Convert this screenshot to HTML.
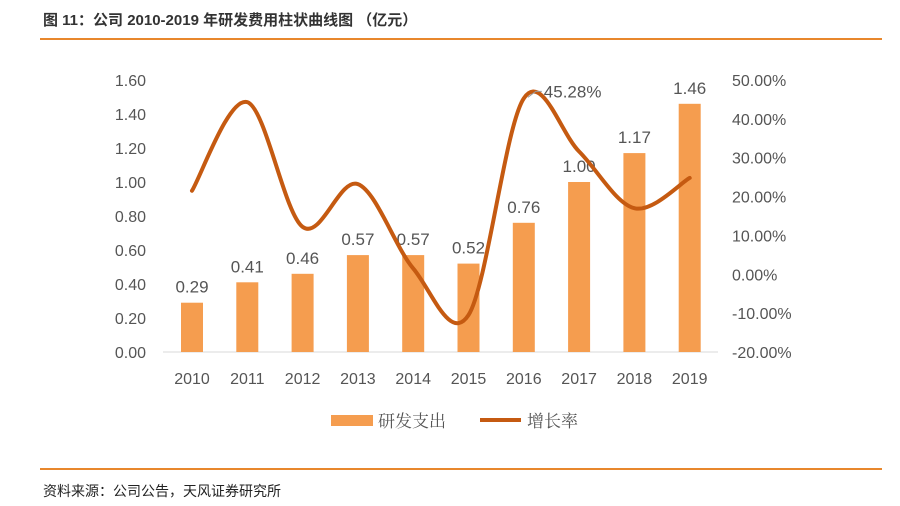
<!DOCTYPE html>
<html><head><meta charset="utf-8">
<style>
body{margin:0;width:900px;height:506px;background:#fff;font-family:"Liberation Sans","Noto Sans CJK SC",sans-serif;overflow:hidden;position:relative}
#title{position:absolute;left:43px;top:9px;font-size:15px;font-weight:bold;color:#333}
#topline{position:absolute;left:40px;top:38px;width:842px;height:2px;background:#e8872c}
#botline{position:absolute;left:40px;top:468px;width:842px;height:2px;background:#e8872c}
#src{position:absolute;left:43px;top:481px;font-size:14px;color:#222}
svg{position:absolute;left:0;top:0}
</style></head><body>
<div id="title">图 11：公司 2010-2019 年研发费用柱状曲线图 （亿元）</div>
<div id="topline"></div>
<svg id="chart" width="900" height="506"></svg>
<div id="botline"></div>
<div id="src">资料来源：公司公告，天风证券研究所</div>
<script>
const categories=["2010","2011","2012","2013","2014","2015","2016","2017","2018","2019"];
const rdSpend=[0.29,0.41,0.46,0.57,0.57,0.52,0.76,1.00,1.17,1.46];
const growth=[21.5,44.3,12.2,23.2,1.5,-10.5,45.28,31.6,17.0,24.8];
const leftTicks=[0,0.2,0.4,0.6,0.8,1.0,1.2,1.4,1.6];
const rightTicks=[-20,-10,0,10,20,30,40,50];
const NS="http://www.w3.org/2000/svg";
const svg=document.getElementById('chart');
const y0=352,yTop=80,x0=192,step=55.3;
const yL=v=>y0-(v/1.6)*(y0-yTop);
const yR=v=>y0-((v+20)/70)*(y0-yTop);
const xC=i=>x0+i*step;
function mk(t,a){const e=document.createElementNS(NS,t);for(const k in a)e.setAttribute(k,a[k]);svg.appendChild(e);return e;}
leftTicks.forEach(v=>{const t=mk('text',{x:146,y:yL(v)+6,'text-anchor':'end','font-size':16,fill:'#555'});t.textContent=v.toFixed(2);

});
rightTicks.forEach(v=>{const t=mk('text',{x:732,y:yR(v)+6,'font-size':16,fill:'#555'});t.textContent=v.toFixed(2)+'%';

});
const ax=mk('line',{x1:163,x2:718,y1:y0,y2:y0,stroke:'#d9d9d9','stroke-width':1});


categories.forEach((c,i)=>{
const b=mk('rect',{x:xC(i)-11,y:yL(rdSpend[i]),width:22,height:y0-yL(rdSpend[i]),fill:'#f59d4f'});


const t=mk('text',{x:xC(i),y:yL(rdSpend[i])-10,'text-anchor':'middle','font-size':17,fill:'#555'});t.textContent=rdSpend[i].toFixed(2);


const l=mk('text',{x:xC(i),y:384,'text-anchor':'middle','font-size':16,fill:'#555'});l.textContent=c;


});
const pts=growth.map((g,i)=>[xC(i),yR(g)]);
let d='M'+pts[0][0]+','+pts[0][1];
for(let i=0;i<pts.length-1;i++){const p0=pts[Math.max(i-1,0)],p1=pts[i],p2=pts[i+1],p3=pts[Math.min(i+2,pts.length-1)];
const c1=[p1[0]+(p2[0]-p0[0])/6,p1[1]+(p2[1]-p0[1])/6],c2=[p2[0]-(p3[0]-p1[0])/6,p2[1]-(p3[1]-p1[1])/6];
d+=` C${c1[0]},${c1[1]} ${c2[0]},${c2[1]} ${p2[0]},${p2[1]}`;}
const ln=mk('path',{d:d,fill:'none',stroke:'#c55a11','stroke-width':4,'stroke-linecap':'round'});


const pk=pts[6];
const ld=mk('polyline',{points:`${pk[0]+4},${pk[1]-1} ${pk[0]+12},${pk[1]-7} ${pk[0]+18},${pk[1]-7}`,fill:'none',stroke:'#999','stroke-width':1});


const pl=mk('text',{x:pk[0]+20,y:pk[1]-1,'font-size':17,fill:'#555'});pl.textContent=growth[6].toFixed(2)+'%';


const s1=mk('rect',{x:331,y:415,width:42,height:11,fill:'#f59d4f'});


const t1=mk('text',{x:378,y:427,'font-size':17,fill:'#555','font-family':'"Noto Serif CJK SC",serif'});t1.textContent='研发支出';


const s2=mk('line',{x1:480,x2:521,y1:420,y2:420,stroke:'#c55a11','stroke-width':4});


const t2=mk('text',{x:527,y:427,'font-size':17,fill:'#555','font-family':'"Noto Serif CJK SC",serif'});t2.textContent='增长率';


</script>
</body></html>
